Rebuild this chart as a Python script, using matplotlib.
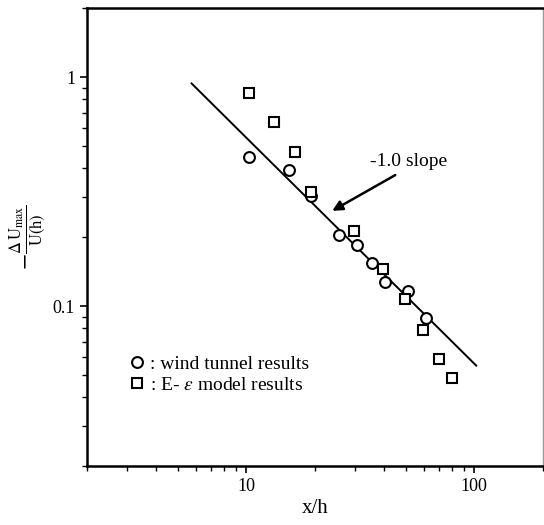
import matplotlib
matplotlib.use("Agg")
import matplotlib.pyplot as plt
from matplotlib.ticker import LogLocator, NullFormatter

plt.rcParams['font.family'] = ['Liberation Serif', 'DejaVu Serif']
plt.rcParams['mathtext.fontset'] = 'stix'

# wind tunnel results (circles)
wind_x = [10.3, 15.4, 19.3, 25.5, 30.7, 35.7, 40.5, 51.2, 61.1]
wind_y = [0.449, 0.393, 0.304, 0.205, 0.185, 0.155, 0.128, 0.116, 0.0884]

# E-eps model results (squares)
model_x = [10.3, 13.2, 16.4, 19.3, 29.7, 39.8, 49.5, 59.6, 69.7, 79.8]
model_y = [0.852, 0.637, 0.472, 0.314, 0.214, 0.145, 0.107, 0.0787, 0.0587, 0.0488]

# -1.0 slope reference line
line_x = [5.75, 102]
line_y = [0.94, 0.055]

# annotation: arrow tip / tail, label position
arrow_tip = (23.8, 0.261)
arrow_tail = (45.0, 0.374)
label_pos = (51.3, 0.427)

fig = plt.figure(figsize=(5.44, 5.25), dpi=100)
ax = fig.add_axes([0.160, 0.112, 0.838, 0.872])

ax.plot(line_x, line_y, color='black', lw=1.4)
ax.plot(wind_x, wind_y, 'o', ms=7.8, mfc='white', mec='black', mew=1.5,
        label=': wind tunnel results')
ax.plot(model_x, model_y, 's', ms=7, mfc='white', mec='black', mew=1.5,
        label=r': E- $\epsilon$ model results')

ax.set_xscale('log')
ax.set_yscale('log')
ax.set_xlim(2, 200)
ax.set_ylim(0.02, 2)

ax.set_xticks([10, 100])
ax.set_xticklabels(['10', '100'])
ax.set_yticks([0.1, 1])
ax.set_yticklabels(['0.1', '1'])
ax.xaxis.set_minor_locator(LogLocator(base=10, subs=range(2, 10)))
ax.yaxis.set_minor_locator(LogLocator(base=10, subs=range(2, 10)))
ax.xaxis.set_minor_formatter(NullFormatter())
ax.yaxis.set_minor_formatter(NullFormatter())
ax.tick_params(which='major', direction='out', length=5, width=1.2, labelsize=13)
ax.tick_params(which='minor', direction='out', length=3.5, width=1.0)

for s in ['left', 'top', 'bottom']:
    ax.spines[s].set_linewidth(1.8)
ax.spines['right'].set_linewidth(1.0)
ax.spines['right'].set_color('#999999')

ax.set_xlabel('x/h', fontsize=15, labelpad=3)
ax.set_ylabel(r'$-\frac{\Delta\,\mathrm{U_{max}}}{\mathrm{U(h)}}$', fontsize=17, labelpad=3)

ax.text(label_pos[0], label_pos[1], '-1.0 slope', fontsize=14, ha='center', va='center')
ax.annotate('', xy=arrow_tip, xytext=arrow_tail,
            arrowprops=dict(arrowstyle='-|>', color='black', lw=1.8,
                            shrinkA=0, shrinkB=0, mutation_scale=15))

ax.legend(loc='upper left', bbox_to_anchor=(0.075, 0.26), frameon=False,
          fontsize=14, handlelength=0.8, handletextpad=0.3, labelspacing=0.2,
          borderaxespad=0)

fig.savefig('out.png', dpi=100)
